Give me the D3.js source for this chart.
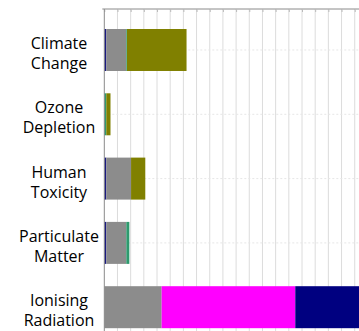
<!DOCTYPE html>
<html><head><meta charset="utf-8">
<script src="https://cdn.jsdelivr.net/npm/d3@7"></script>
<style>body{margin:0;background:#fff}svg{display:block}</style>
</head><body>
<svg id="c" width="359" height="331"></svg>
<script>
const categories = [["Climate","Change"],["Ozone","Depletion"],["Human","Toxicity"],["Particulate","Matter"],["Ionising","Radiation"]];
const seriesNames = ["A","B","C","D","E","F"];
const seriesColors = ["#1a1a80","#8c8c8c","#2e9a6e","#808000","#ff00ff","#000080"];
const sA = [0.15, 0.00, 0.15, 0.15, 0.00];
const sB = [1.52, 0.00, 1.88, 1.52, 4.35];
const sC = [0.05, 0.15, 0.00, 0.23, 0.00];
const sD = [4.52, 0.32, 1.08, 0.00, 0.00];
const sE = [0.00, 0.00, 0.00, 0.00, 10.14];
const sF = [0.00, 0.00, 0.00, 0.00, 6.50];
const gridTicks = d3.range(0, 26, 1);

const svg = d3.select("#c");
const x0 = 104.3, unit = 13.18;
const x = d3.scaleLinear().domain([0, 25]).range([x0, x0 + 25*unit]);
const step = 64.3, pIn = 0.347, pOut = 0.17, n = categories.length;
const yStart = 29 - pOut*step;
const y = d3.scaleBand().domain(d3.range(n))
  .range([yStart, yStart + step*(n - pIn + 2*pOut)]).paddingInner(pIn).paddingOuter(pOut);

const rows = categories.map((c,i)=>({i, A:sA[i],B:sB[i],C:sC[i],D:sD[i],E:sE[i],F:sF[i]}));
const stack = d3.stack().keys(seriesNames)(rows);

const topY = 9;
// gridlines
svg.append("g").selectAll("line").data(gridTicks.slice(1)).join("line")
  .attr("x1", d=>x(d)).attr("x2", d=>x(d)).attr("y1", topY).attr("y2", 331)
  .attr("stroke", "#dcdcdc").attr("stroke-width", 1);
// faint dotted center lines
svg.append("g").selectAll("line").data(d3.range(4)).join("line")
  .attr("x1", x0).attr("x2", 359)
  .attr("y1", d=>y(d)+y.bandwidth()/2).attr("y2", d=>y(d)+y.bandwidth()/2)
  .attr("stroke", "#e6e6e6").attr("stroke-dasharray","2,2");
// top axis
const ax = svg.append("g").attr("transform", `translate(0,${topY})`)
  .call(d3.axisTop(x).tickValues(gridTicks).tickFormat("").tickSize(3).tickSizeOuter(0));
ax.select(".domain").attr("stroke", "#8a8a8a").attr("d", `M${x0-2},0H359`);
ax.selectAll(".tick line").attr("stroke", "#bbb").attr("y2", 3);
// bars
svg.append("g").selectAll("g").data(stack).join("g")
  .attr("fill", (d,i)=>seriesColors[i])
  .selectAll("rect").data(d=>d.filter(p=>p[1]-p[0]>0)).join("rect")
  .attr("x", d=>x(d[0])).attr("width", d=>x(d[1])-x(d[0]))
  .attr("y", d=>y(d.data.i)).attr("height", y.bandwidth());
// y axis line
svg.append("line").attr("x1", x0).attr("x2", x0).attr("y1", topY).attr("y2", 331)
  .attr("stroke", "#8a8a8a");
// labels
const lab = svg.append("g").attr("font-family","'Open Sans', sans-serif").attr("font-size", 16)
  .attr("fill","#000").attr("text-anchor","middle");
categories.forEach((c,i)=>{
  const cy = y(i)+y.bandwidth()/2;
  const t = lab.append("text").attr("x", 59).attr("y", cy);
  c.forEach((ln,j)=> t.append("tspan").attr("x",59).attr("y", cy - 1 + j*20).text(ln));
});
</script>
</body></html>
